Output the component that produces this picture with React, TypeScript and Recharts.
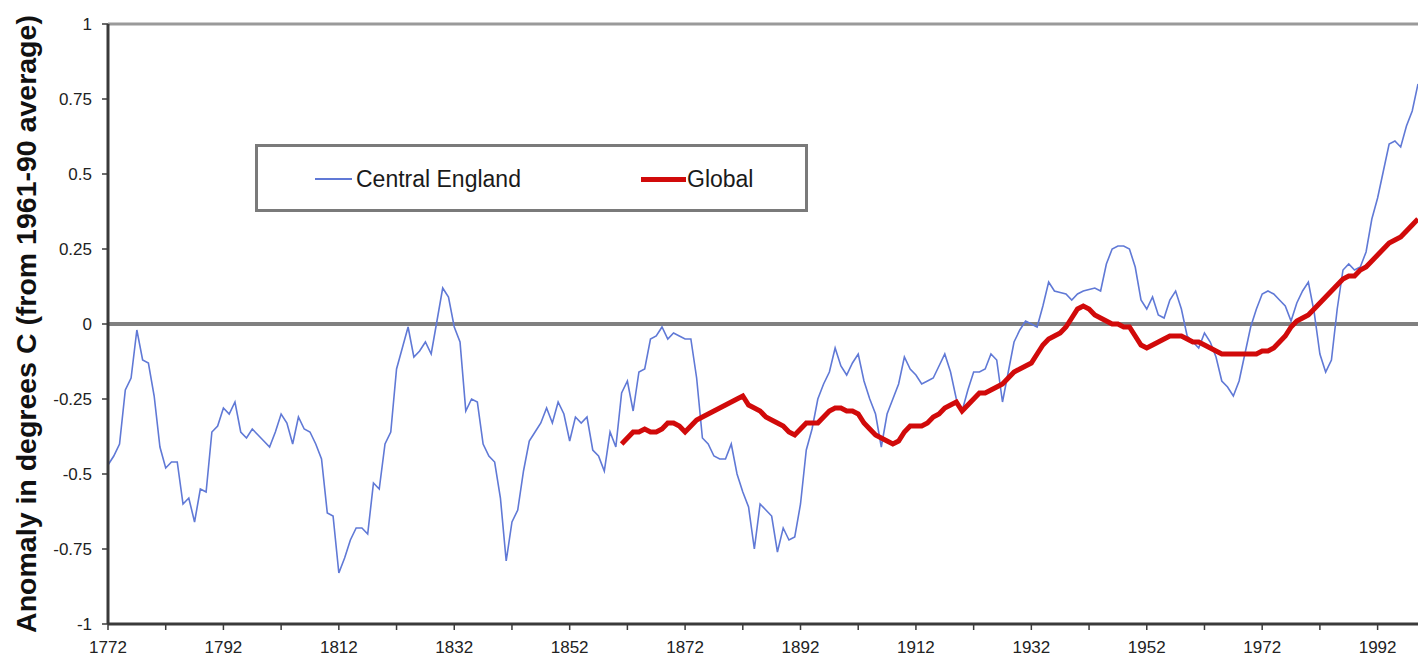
import { LineChart, Line, XAxis, YAxis, ReferenceLine } from "recharts";

// Central England temperature, 10-yr smoothed anomaly (deg C, vs 1961-90), one value per year from 1772
const firstYear = 1772;
const centralEngland = [
  -0.47, -0.44, -0.4, -0.22, -0.18, -0.02, -0.12, -0.13, -0.24, -0.41,
  -0.48, -0.46, -0.46, -0.6, -0.58, -0.66, -0.55, -0.56, -0.36, -0.34,
  -0.28, -0.3, -0.26, -0.36, -0.38, -0.35, -0.37, -0.39, -0.41, -0.36,
  -0.3, -0.33, -0.4, -0.31, -0.35, -0.36, -0.4, -0.45, -0.63, -0.64,
  -0.83, -0.78, -0.72, -0.68, -0.68, -0.7, -0.53, -0.55, -0.4, -0.36,
  -0.15, -0.08, -0.01, -0.11, -0.09, -0.06, -0.1, 0.01, 0.12, 0.09,
  -0.01, -0.06, -0.29, -0.25, -0.26, -0.4, -0.44, -0.46, -0.58, -0.79,
  -0.66, -0.62, -0.49, -0.39, -0.36, -0.33, -0.28, -0.33, -0.26, -0.3,
  -0.39, -0.31, -0.33, -0.31, -0.42, -0.44, -0.49, -0.36, -0.41, -0.23,
  -0.19, -0.29, -0.16, -0.15, -0.05, -0.04, -0.01, -0.05, -0.03, -0.04,
  -0.05, -0.05, -0.18, -0.38, -0.4, -0.44, -0.45, -0.45, -0.4, -0.5,
  -0.56, -0.61, -0.75, -0.6, -0.62, -0.64, -0.76, -0.68, -0.72, -0.71,
  -0.6, -0.42, -0.35, -0.25, -0.2, -0.16, -0.08, -0.14, -0.17, -0.13,
  -0.1, -0.19, -0.25, -0.3, -0.41, -0.3, -0.25, -0.2, -0.11, -0.15,
  -0.17, -0.2, -0.19, -0.18, -0.14, -0.1, -0.16, -0.25, -0.29, -0.22,
  -0.16, -0.16, -0.15, -0.1, -0.12, -0.26, -0.16, -0.06, -0.02, 0.01,
  0.0, -0.01, 0.06, 0.14, 0.11, 0.105, 0.1, 0.08, 0.1, 0.11,
  0.115, 0.12, 0.11, 0.2, 0.25, 0.26, 0.26, 0.25, 0.19, 0.08,
  0.05, 0.09, 0.03, 0.02, 0.08, 0.11, 0.05, -0.04, -0.06, -0.08,
  -0.03, -0.06, -0.11, -0.19, -0.21, -0.24, -0.19, -0.1, -0.01, 0.05,
  0.1, 0.11, 0.1, 0.08, 0.06, 0.01, 0.07, 0.11, 0.14, 0.04,
  -0.1, -0.16, -0.12, 0.05, 0.18, 0.2, 0.18, 0.19, 0.24, 0.35,
  0.42, 0.51, 0.6, 0.61, 0.59, 0.66, 0.71, 0.8,
];

// Global mean, smoothed anomaly, one value per year from 1861
const globalStart = 1861;
const globalMean = [
  -0.4, -0.38, -0.36, -0.36, -0.35, -0.36, -0.36, -0.35, -0.33, -0.33,
  -0.34, -0.36, -0.34, -0.32, -0.31, -0.3, -0.29, -0.28, -0.27, -0.26,
  -0.25, -0.24, -0.27, -0.28, -0.29, -0.31, -0.32, -0.33, -0.34, -0.36,
  -0.37, -0.35, -0.33, -0.33, -0.33, -0.31, -0.29, -0.28, -0.28, -0.29,
  -0.29, -0.3, -0.33, -0.35, -0.37, -0.38, -0.39, -0.4, -0.39, -0.36,
  -0.34, -0.34, -0.34, -0.33, -0.31, -0.3, -0.28, -0.27, -0.26, -0.29,
  -0.27, -0.25, -0.23, -0.23, -0.22, -0.21, -0.2, -0.18, -0.16, -0.15,
  -0.14, -0.13, -0.1, -0.07, -0.05, -0.04, -0.03, -0.01, 0.02, 0.05,
  0.06, 0.05, 0.03, 0.02, 0.01, 0.0, 0.0, -0.01, -0.01, -0.04,
  -0.07, -0.08, -0.07, -0.06, -0.05, -0.04, -0.04, -0.04, -0.05, -0.06,
  -0.06, -0.07, -0.08, -0.09, -0.1, -0.1, -0.1, -0.1, -0.1, -0.1,
  -0.1, -0.09, -0.09, -0.08, -0.06, -0.04, -0.01, 0.01, 0.02, 0.03,
  0.05, 0.07, 0.09, 0.11, 0.13, 0.15, 0.16, 0.16, 0.18, 0.19,
  0.21, 0.23, 0.25, 0.27, 0.28, 0.29, 0.31, 0.33, 0.35,
];

const xTicks = [
  1772, 1782, 1792, 1802, 1812, 1822, 1832, 1842, 1852, 1862, 1872, 1882,
  1892, 1902, 1912, 1922, 1932, 1942, 1952, 1962, 1972, 1982, 1992,
];
const yTicks = [-1, -0.75, -0.5, -0.25, 0, 0.25, 0.5, 0.75, 1];

const lastYear = firstYear + centralEngland.length - 1;

const data = centralEngland.map((v, i) => {
  const year = firstYear + i;
  const g = year >= globalStart ? globalMean[year - globalStart] : null;
  return { year, cet: v, global: g };
});

const FONT = "'Liberation Sans', Arial, sans-serif";
const BLUE = "#6079d6";
const RED = "#d10a0a";

// legend box sits over the plot like the Excel original, so it is drawn as an overlay
function LegendBox() {
  return (
    <div
      style={{
        position: "absolute",
        left: 255,
        top: 144,
        width: 553,
        height: 68,
        boxSizing: "border-box",
        border: "3px solid #7a7a7a",
        background: "#fff",
        fontFamily: FONT,
        fontSize: 23,
        color: "#1a1a1a",
      }}
    >
      <div style={{ position: "absolute", left: 57, top: 31, width: 37, height: 2, background: BLUE }} />
      <div style={{ position: "absolute", left: 98, top: 20, lineHeight: "25px" }}>Central England</div>
      <div style={{ position: "absolute", left: 383, top: 30, width: 45, height: 5, background: RED }} />
      <div style={{ position: "absolute", left: 429, top: 20, lineHeight: "25px" }}>Global</div>
    </div>
  );
}

function AxisTitle(props: any) {
  const vb = props.viewBox || { x: 0, y: 24, height: 600 };
  const cx = 26;
  const cy = vb.y + vb.height / 2;
  return (
    <text
      x={cx}
      y={cy}
      transform={`rotate(-90 ${cx} ${cy})`}
      textAnchor="middle"
      dominantBaseline="central"
      fontFamily={FONT}
      fontWeight="bold"
      fontSize={28.5}
      fill="#111"
    >
      Anomaly in degrees C (from 1961-90 average)
    </text>
  );
}

export default function App() {
  return (
    <div style={{ position: "absolute", left: 0, top: 0, width: 1418, height: 661, background: "#fff" }}>
      <LineChart
        width={1418}
        height={661}
        data={data}
        margin={{ top: 24, right: 0, bottom: 0, left: 0 }}
      >
        <ReferenceLine y={1} stroke="#9a9a9a" strokeWidth={3} ifOverflow="visible" />
        <ReferenceLine y={0} stroke="#808080" strokeWidth={4} />
        <XAxis
          dataKey="year"
          type="number"
          domain={[firstYear, lastYear]}
          ticks={xTicks}
          interval={0}
          tickFormatter={(v: number) => ((v - firstYear) % 20 === 0 ? String(v) : "")}
          height={37}
          tickSize={6}
          tickMargin={11}
          axisLine={{ stroke: "#3a3a3a", strokeWidth: 3 }}
          tickLine={{ stroke: "#3a3a3a", strokeWidth: 1.5 }}
          tick={{ fontSize: 17, fill: "#222", fontFamily: FONT }}
        />
        <YAxis
          type="number"
          domain={[-1, 1]}
          ticks={yTicks}
          interval={0}
          width={108}
          tickSize={6}
          tickMargin={10}
          axisLine={{ stroke: "#3a3a3a", strokeWidth: 3 }}
          tickLine={{ stroke: "#3a3a3a", strokeWidth: 1.5 }}
          tick={{ fontSize: 17, fill: "#222", fontFamily: FONT }}
          label={<AxisTitle />}
        />
        <Line
          type="linear"
          dataKey="cet"
          name="Central England"
          stroke={BLUE}
          strokeWidth={1.6}
          dot={false}
          activeDot={false}
          isAnimationActive={false}
        />
        <Line
          type="linear"
          dataKey="global"
          name="Global"
          stroke={RED}
          strokeWidth={5}
          dot={false}
          activeDot={false}
          connectNulls={false}
          isAnimationActive={false}
        />
      </LineChart>
      <LegendBox />
    </div>
  );
}
